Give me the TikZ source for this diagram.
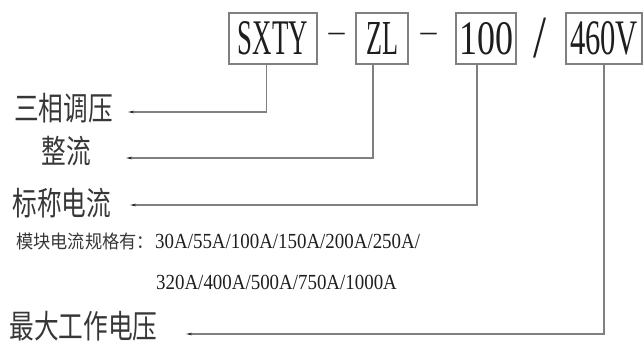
\documentclass[tikz,border=0pt]{standalone}
\usepackage{fontspec}
\setmainfont{Liberation Serif}
\newfontfamily\cjkfont{Noto Sans CJK SC}[FakeStretch=0.76]
\newfontfamily\cjksmallfont{Noto Sans CJK SC}[FakeStretch=0.93]
\newfontfamily\condfont{Liberation Serif}[FakeStretch=0.88]
\usetikzlibrary{arrows.meta}
\definecolor{linegray}{RGB}{128,128,128}
\definecolor{inkc}{RGB}{30,30,30}
\definecolor{cjkink}{RGB}{55,55,55}
\newcommand{\fitto}[3]{\resizebox{#1}{#2}{#3}}
\begin{document}
\begin{tikzpicture}[x=1pt,y=-1pt,
  codebox/.style={draw=linegray, line width=1.1pt, inner sep=0pt, text=inkc, minimum height=51pt},
  sep/.style={inner sep=0pt, text=inkc},
  biglabel/.style={font=\fontsize{32.5}{34}\selectfont\cjkfont, text=cjkink, inner sep=0pt},
  smalllabel/.style={font=\fontsize{18.5}{20}\selectfont\cjksmallfont, text=cjkink, inner sep=0pt, anchor=base west},
  values/.style={font=\fontsize{21.5}{23}\selectfont\condfont, text=inkc, inner sep=0pt, anchor=base west},
  leader/.style={draw=linegray, line width=1.1pt, -{Stealth[length=6pt,width=2.6pt,color=inkc]}},
]
\useasboundingbox (0,0) rectangle (643,343);

% code boxes
\node[codebox, minimum width=88pt] (sxty) at (273,38.5) {\fitto{70pt}{33pt}{SXTY}};
\node[codebox, minimum width=52pt] (zl)   at (382,38.5) {\fitto{32pt}{32pt}{ZL}};
\node[codebox, minimum width=60pt] (cur)  at (486,38.5) {\fitto{54pt}{32pt}{100}};
\node[codebox, minimum width=76pt] (volt) at (604,38.5) {\fitto{68pt}{33pt}{460V}};

% separators
\node[sep, font=\fontsize{26}{28}\selectfont] (d1) at (336.5,37) {\resizebox{16pt}{!}{–}};
\node[sep, font=\fontsize{26}{28}\selectfont] (d2) at (428.5,37) {\resizebox{16pt}{!}{–}};
\node[sep] (sl) at (539.5,38) {\resizebox*{13pt}{40pt}{/}};

% labels
\node[biglabel] (l1) at (63.5,108) {三相调压};
\node[biglabel] (l2) at (66.5,151) {整流};
\node[biglabel] (l3) at (62,203) {标称电流};
\node[biglabel] (l4) at (83.5,326) {最大工作电压};

\node[smalllabel] (spec) at (16,248) {模块电流规格有：};
\node[values] (v1) at (155,248) {30A/55A/100A/150A/200A/250A/};
\node[values] (v2) at (156,289) {320A/400A/500A/750A/1000A};

% leader ends
\coordinate (e1) at (128,112);
\coordinate (e2) at (126,158);
\coordinate (e3) at (130,205);
\coordinate (e4) at (186,334);

\draw[leader] ([xshift=-6.3pt]sxty.south) |- (e1);
\draw[leader] ([xshift=-9pt]zl.south) |- (e2);
\draw[leader] ([xshift=-9pt]cur.south) |- (e3);
\draw[leader] (volt.south) |- (e4);
\end{tikzpicture}
\end{document}
